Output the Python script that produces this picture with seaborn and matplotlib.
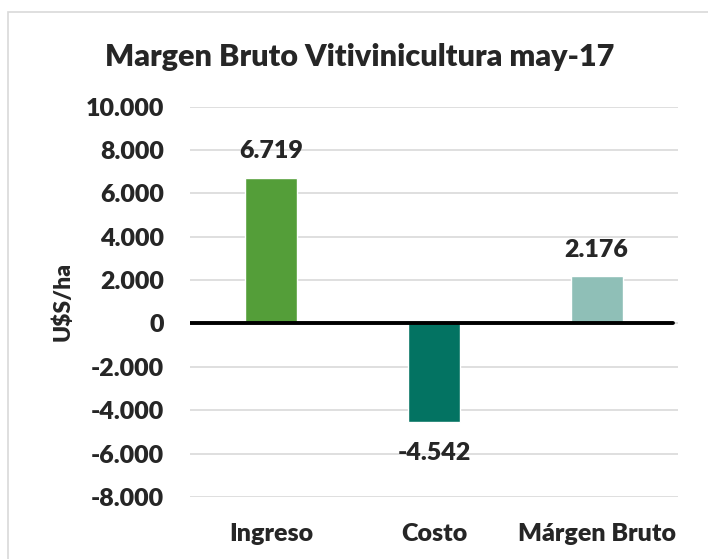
import matplotlib
matplotlib.use("Agg")
import matplotlib.pyplot as plt
import seaborn as sns
import pandas as pd
from matplotlib.patches import Rectangle

categories = ["Ingreso", "Costo", "Márgen Bruto"]
values = [6719, -4542, 2176]
colors = ["#549E39", "#037362", "#8FBFB7"]
yticks = list(range(-8000, 10001, 2000))


def fmt(v):
    return f"{v:,.0f}".replace(",", ".")


df = pd.DataFrame({"cat": categories, "val": values})

sns.set_style("white")
plt.rcParams["font.family"] = ["Lato", "DejaVu Sans"]
plt.rcParams["font.weight"] = "heavy"

fig = plt.figure(figsize=(7.08, 5.59), dpi=100)
ax = fig.add_axes([190 / 708, 62 / 559, 488 / 708, 390.5 / 559])

sns.barplot(data=df, x="cat", y="val", hue="cat", palette=colors,
            width=0.32, legend=False, ax=ax, saturation=1)

ax.set_ylim(-8000, 10000)
ax.set_xlim(-0.5, 2.5)
ax.set_yticks(yticks)
ax.set_yticklabels([fmt(t) for t in yticks], fontsize=18, fontweight="heavy")
ax.set_xticks(range(len(categories)))
ax.set_xticklabels(categories, fontsize=18, fontweight="heavy")
ax.tick_params(axis="y", length=0, pad=18.5)
ax.tick_params(axis="x", length=0, pad=19)
ax.yaxis.grid(True, color="#D9D9D9", linewidth=1.2)
ax.set_axisbelow(True)
for s in ax.spines.values():
    s.set_visible(False)
ax.axhline(0, color="black", linewidth=2.8, xmin=-0.01, xmax=0.99, zorder=3)

ax.set_xlabel("")
ax.set_ylabel("U$S/ha", fontsize=16.5, fontweight="heavy")
ax.yaxis.set_label_coords((74 - 190) / 488, 0.5)

for i, v in enumerate(values):
    off = 700 if v > 0 else -900
    ax.text(i, v + off, fmt(v), ha="center", va="bottom" if v > 0 else "top",
            fontsize=18, fontweight="heavy")

fig.text(360 / 708, 1 - 57 / 559, "Margen Bruto Vitivinicultura may-17",
         ha="center", va="center", fontsize=22, fontweight="heavy")

fig.patches.append(Rectangle((8 / 708, -0.01), 1.0, 1 - 12 / 559 + 0.01,
                             transform=fig.transFigure, fill=False,
                             edgecolor="#D9D9D9", linewidth=1.2))

fig.savefig("out.png", dpi=100)
